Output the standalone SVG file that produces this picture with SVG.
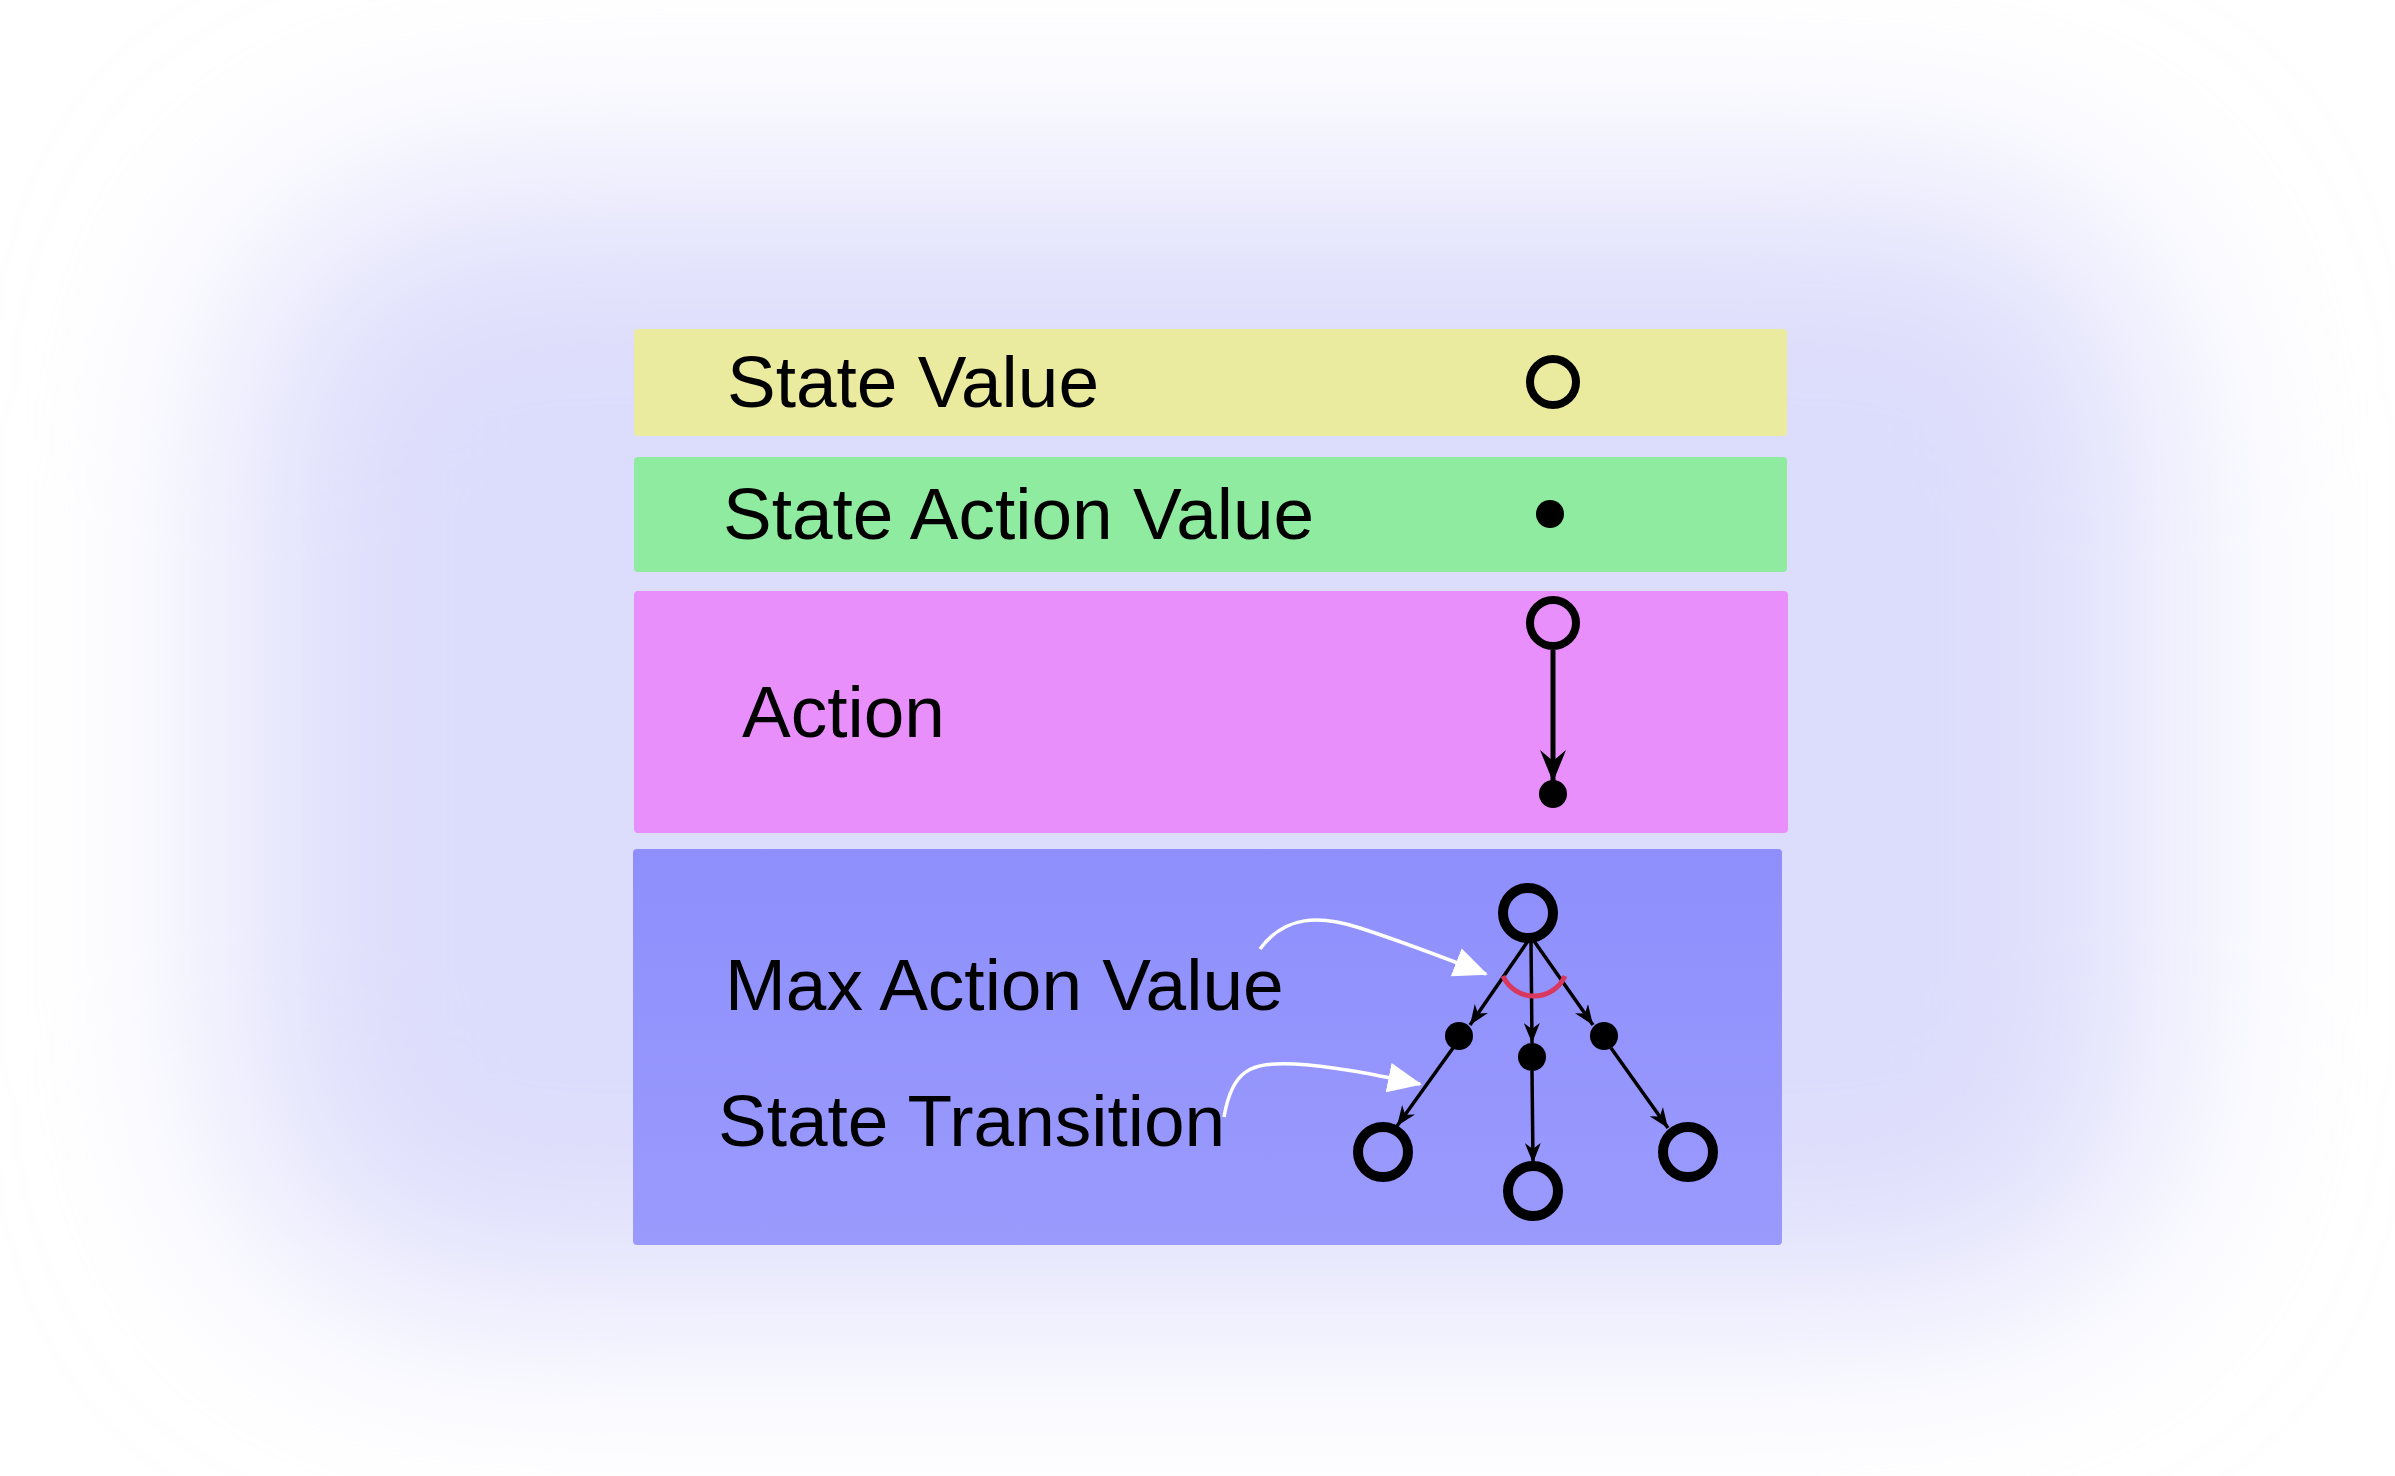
<svg xmlns="http://www.w3.org/2000/svg" width="2395" height="1476" viewBox="0 0 2395 1476">
<defs>
<filter id="glow" x="-30%" y="-30%" width="160%" height="160%"><feGaussianBlur stdDeviation="110"/></filter>
<linearGradient id="blueGrad" x1="0" y1="0" x2="0" y2="1"><stop offset="0" stop-color="#8e8ffc"/><stop offset="1" stop-color="#9a9afd"/></linearGradient>
<marker id="arr" viewBox="0 0 20 16" refX="20" refY="8" markerWidth="20" markerHeight="16" markerUnits="userSpaceOnUse" orient="auto"><path d="M0,0 L20,8 L0,16 L6,8 z" fill="#000"/></marker>
<marker id="arrBig" viewBox="0 0 32 26" refX="32" refY="13" markerWidth="32" markerHeight="26" markerUnits="userSpaceOnUse" orient="auto"><path d="M0,0 L32,13 L0,26 L11,13 z" fill="#000"/></marker>
<marker id="arrWhite" viewBox="0 0 34 30" refX="32" refY="15" markerWidth="34" markerHeight="30" markerUnits="userSpaceOnUse" orient="auto"><path d="M0,0 L34,15 L0,30 z" fill="#fff"/></marker>
</defs>
<style>
.lbl{font-family:"Liberation Sans",Arial,sans-serif;font-size:73px;fill:#000}
.sv{fill:none;stroke:#000;stroke-width:8}
.svb{fill:none;stroke:#000;stroke-width:10}
.sav{fill:#000}
.edge{stroke:#000;stroke-width:3.5;fill:none}
.callout{stroke:#fff;stroke-width:3.5;fill:none}
</style>
<rect width="2395" height="1476" fill="#ffffff"/>
<rect x="240" y="190" width="1915" height="1110" rx="220" fill="#dcdcfc" filter="url(#glow)"/>

<g id="row-state-value">
<rect x="634" y="329" width="1153" height="107" rx="4" fill="#ebeba0"/>
<text class="lbl" x="727" y="407">State Value</text>
<circle class="sv" cx="1553" cy="382" r="23"/>
</g>
<g id="row-state-action-value">
<rect x="634" y="457" width="1153" height="115" rx="4" fill="#8feb9f"/>
<text class="lbl" x="723" y="539">State Action Value</text>
<circle class="sav" cx="1550" cy="514" r="14"/>
</g>
<g id="row-action">
<rect x="634" y="591" width="1154" height="242" rx="4" fill="#e88ffc"/>
<text class="lbl" x="742" y="737">Action</text>
<circle class="sv" cx="1553" cy="623" r="23"/>
<circle class="sav" cx="1553" cy="794" r="14"/>
</g>
<g id="row-backup">
<rect x="633" y="849" width="1149" height="396" rx="4" fill="url(#blueGrad)"/>
<text class="lbl" x="725" y="1010">Max Action Value</text>
<text class="lbl" x="718" y="1146">State Transition</text>
</g>
<g id="node-root"><circle class="svb" cx="1528" cy="913" r="25"/></g>
<g id="node-a1"><circle class="sav" cx="1459" cy="1036" r="14"/></g>
<g id="node-a2"><circle class="sav" cx="1532" cy="1057" r="14"/></g>
<g id="node-a3"><circle class="sav" cx="1604" cy="1036" r="14"/></g>
<g id="node-s1"><circle class="svb" cx="1383" cy="1152" r="25"/></g>
<g id="node-s2"><circle class="svb" cx="1533" cy="1191" r="25"/></g>
<g id="node-s3"><circle class="svb" cx="1688" cy="1152" r="25"/></g>

<g id="connectors">
<line x1="1553" y1="650" x2="1553" y2="782" stroke="#000" stroke-width="5" marker-end="url(#arrBig)"/>
<line class="edge" x1="1528" y1="941" x2="1470" y2="1025" marker-end="url(#arr)"/>
<line class="edge" x1="1531" y1="941" x2="1532" y2="1043" marker-end="url(#arr)"/>
<line class="edge" x1="1534" y1="941" x2="1593" y2="1025" marker-end="url(#arr)"/>
<line class="edge" x1="1453" y1="1048" x2="1397" y2="1126" marker-end="url(#arr)"/>
<line class="edge" x1="1532" y1="1071" x2="1533" y2="1163" marker-end="url(#arr)"/>
<line class="edge" x1="1611" y1="1048" x2="1668" y2="1128" marker-end="url(#arr)"/>
<path d="M1503 976 A34 34 0 0 0 1565 976" fill="none" stroke="#d9385e" stroke-width="5"/>
<path class="callout" d="M1260 949 C1285 915, 1320 915, 1360 928 C1400 941, 1440 956, 1486 974" marker-end="url(#arrWhite)"/>
<path class="callout" d="M1224 1117 C1232 1070, 1250 1062, 1295 1064 C1340 1067, 1380 1076, 1420 1084" marker-end="url(#arrWhite)"/>
</g>
</svg>
